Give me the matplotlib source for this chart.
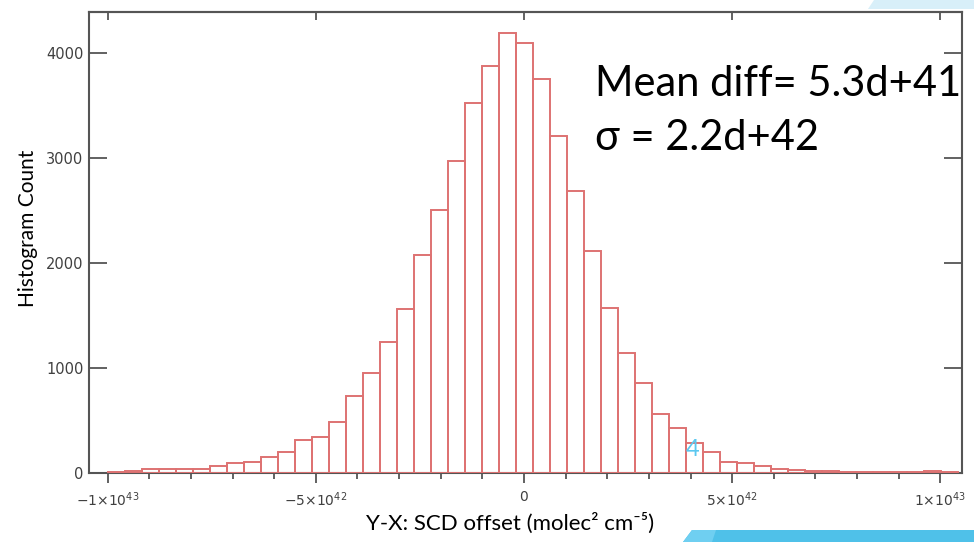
import numpy as np
import matplotlib
matplotlib.use("Agg")
import matplotlib.pyplot as plt
from matplotlib.patches import Polygon
from matplotlib.ticker import FixedLocator, FixedFormatter, MultipleLocator, NullFormatter

# histogram counts, 50 bins starting at -1e43
counts = [10, 14, 38, 33, 33, 36, 60, 88, 98, 150,
          200, 308, 336, 485, 733, 950, 1242, 1556, 2073, 2505,
          2966, 3524, 3873, 4185, 4092, 3753, 3210, 2680, 2111, 1571,
          1140, 854, 556, 423, 286, 200, 105, 90, 66, 36,
          24, 15, 12, 10, 9, 10, 2, 2, 12, 2]
bin_start = -1.0e43
bin_width = 4.085e41

xtick_vals = [-1e43, -5e42, 0, 5e42, 1e43]
xtick_labels = [r"$-1{\times}10^{43}$", r"$-5{\times}10^{42}$", r"$0$",
                r"$5{\times}10^{42}$", r"$1{\times}10^{43}$"]
ytick_vals = [0, 1000, 2000, 3000, 4000]
ytick_labels = ["0", "1000", "2000", "3000", "4000"]

mean_text = "Mean diff= 5.3d+41"
sigma_text = "σ = 2.2d+42"

W, H = 974, 542
fig = plt.figure(figsize=(W / 100, H / 100), dpi=100)
ax = fig.add_axes([89 / W, 1 - 472.7 / H, (962 - 89) / W, (472.7 - 12) / H])

edges = bin_start + bin_width * np.arange(len(counts) + 1)
ax.bar(edges[:-1], counts, width=bin_width, align="edge", fill=False,
       edgecolor="#de7272", linewidth=1.4, zorder=3)

ax.set_xlim(-1.0447e43, 1.0519e43)
ax.set_ylim(0, 4388)

axis_col = "#555555"
for s in ax.spines.values():
    s.set_color(axis_col)
    s.set_linewidth(1.5)

ax.xaxis.set_major_locator(FixedLocator(xtick_vals))
ax.xaxis.set_major_formatter(FixedFormatter(xtick_labels))
ax.xaxis.set_minor_locator(MultipleLocator(1e42))
ax.tick_params(axis="x", which="major", direction="out", length=7.5, width=1.3,
               color=axis_col, labelsize=10, labelcolor="#404040", pad=5)
ax.tick_params(axis="x", which="minor", direction="out", length=4.2, width=1.3,
               color=axis_col)

ax.yaxis.set_major_locator(FixedLocator(ytick_vals))
ax.yaxis.set_major_formatter(FixedFormatter(ytick_labels))
ax.tick_params(axis="y", direction="in", left=True, right=True, length=13,
               width=1.3, color=axis_col, labelsize=10.5, labelcolor="#404040", pad=4)

# inward ticks along the top edge
top = ax.secondary_xaxis("top")
top.xaxis.set_major_locator(FixedLocator(xtick_vals))
top.xaxis.set_major_formatter(NullFormatter())
top.tick_params(direction="in", length=6, width=1.3, color=axis_col)
top.spines["top"].set_color(axis_col)
top.spines["top"].set_linewidth(1.5)

txt_font = ["Lato", "DejaVu Sans"]
ax.set_ylabel("Histogram Count", family=txt_font, fontsize=15, color="black")
ax.yaxis.set_label_coords(-51 / 873, 0.53)
ax.set_xlabel("Y-X: SCD offset (molec² cm⁻⁵)", family=txt_font, fontsize=16,
              color="black")
ax.xaxis.set_label_coords((510 - 89) / 873, -(513 - 472.7) / 460.7)

fig.text(595 / W, 1 - 96 / H, mean_text, family=txt_font, fontsize=30,
         va="baseline", ha="left")
fig.text(595 / W, 1 - 150 / H, sigma_text, family=txt_font, fontsize=30,
         va="baseline", ha="left")

# slide number and theme shapes
fig.text(693 / W, 1 - 449 / H, "4", family=txt_font, fontsize=17,
         color="#5bc8f0", ha="center", va="center")


def px_poly(pts, color):
    xy = [(x / W, 1 - y / H) for x, y in pts]
    fig.patches.append(Polygon(xy, closed=True, transform=fig.transFigure,
                               facecolor=color, edgecolor="none", zorder=5))


px_poly([(683, 542), (692, 530), (974, 530), (974, 542)], "#4fc1e9")
px_poly([(683, 542), (692, 530), (716, 530), (712, 542)], "#6fcff1")
px_poly([(868, 9), (874, 0), (974, 0), (974, 9)], "#d8eff9")

fig.savefig("out.png", dpi=100)
